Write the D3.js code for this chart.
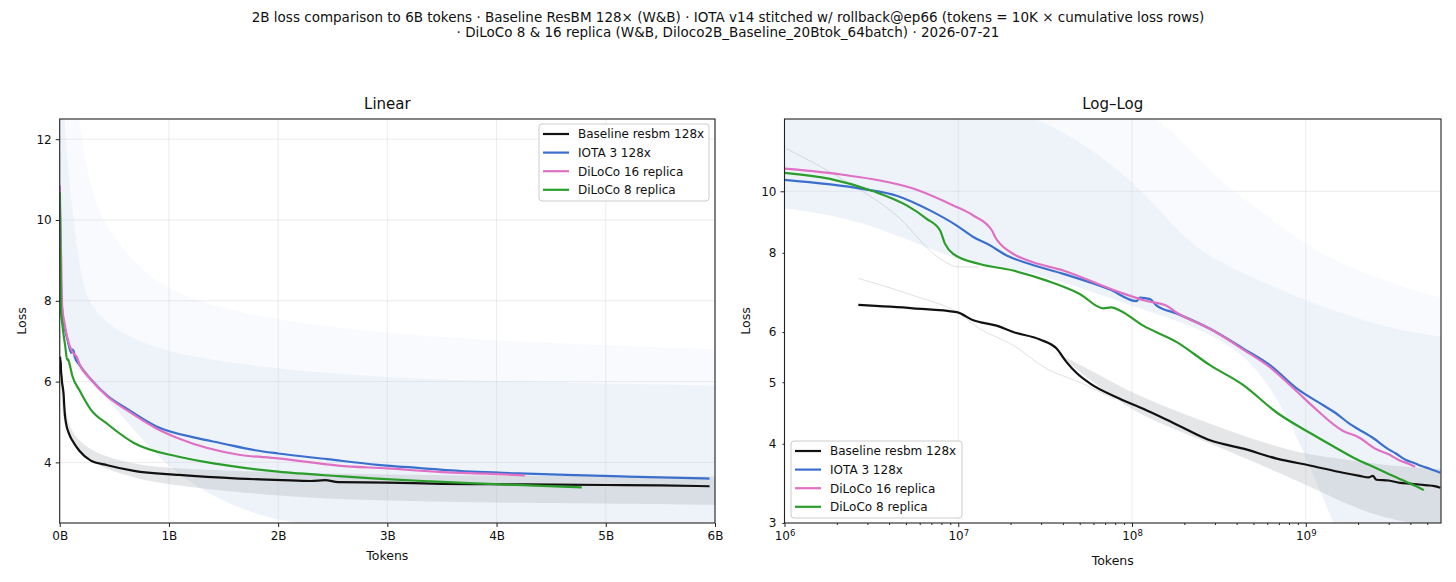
<!DOCTYPE html>
<html>
<head>
<meta charset="utf-8">
<script src="https://cdn.jsdelivr.net/npm/d3@7"></script>
<style>
  body { margin: 0; background: #fff; }
  svg text { font-family: "DejaVu Sans", sans-serif; fill: #111; }
</style>
</head>
<body>
<svg id="fig" width="1456" height="582"></svg>
<script>
// ---- data (tokens, loss) ----
const baseTok  = [2.66e6, 5.5e6, 9.8e6, 1.22e7, 1.66e7, 2.07e7, 2.95e7, 3.68e7, 4.2e7, 4.8e7, 5.72e7, 8.5e7, 1.16e8, 1.8e8, 2.81e8, 4.37e8, 6.8e8, 1.09e9, 1.64e9, 2.04e9, 2.3e9, 2.43e9, 2.55e9, 3.0e9, 3.5e9, 3.96e9, 4.5e9, 5.0e9, 5.5e9, 5.95e9];
const baseLoss = [6.62, 6.54, 6.45, 6.26, 6.14, 6.0, 5.84, 5.65, 5.38, 5.17, 4.98, 4.71, 4.54, 4.29, 4.05, 3.93, 3.79, 3.69, 3.6, 3.56, 3.54, 3.56, 3.51, 3.5, 3.47, 3.46, 3.45, 3.44, 3.43, 3.41];

const iotaTok  = [1e6, 2.84e6, 4.42e6, 6.87e6, 9.8e6, 1.22e7, 1.52e7, 1.9e7, 2.58e7, 4.02e7, 7.46e7, 1.06e8, 1.11e8, 1.27e8, 1.38e8, 1.8e8, 2.81e8, 4.37e8, 6.22e8, 8.86e8, 1.26e9, 1.47e9, 1.79e9, 2.0e9, 2.45e9, 2.91e9, 3.3e9, 3.77e9, 4.2e9, 4.64e9, 5.2e9, 5.95e9];
const iotaLoss = [10.42, 10.08, 9.84, 9.33, 8.83, 8.47, 8.22, 7.92, 7.68, 7.41, 7.0, 6.71, 6.8, 6.76, 6.61, 6.42, 6.07, 5.65, 5.32, 4.89, 4.6, 4.48, 4.3, 4.22, 4.08, 3.94, 3.86, 3.77, 3.73, 3.69, 3.65, 3.6];

const d16Tok  = [1e6, 2.28e6, 5.5e6, 9.35e6, 1.22e7, 1.56e7, 1.63e7, 1.98e7, 2.48e7, 4.02e7, 8.5e7, 1.2e8, 1.58e8, 1.8e8, 2.81e8, 4.37e8, 6.22e8, 8.86e8, 1.09e9, 1.64e9, 2.0e9, 2.55e9, 3.0e9, 3.5e9, 3.9e9, 4.26e9];
const d16Loss = [10.86, 10.6, 10.1, 9.5, 9.16, 8.68, 8.47, 8.03, 7.79, 7.5, 6.93, 6.72, 6.6, 6.44, 6.07, 5.63, 5.28, 4.84, 4.59, 4.19, 4.1, 3.92, 3.85, 3.76, 3.72, 3.68];

const d8Tok  = [1e6, 1.83e6, 3.25e6, 5.05e6, 6.58e6, 7.85e6, 8.38e6, 9.35e6, 1.33e7, 2.07e7, 3.23e7, 5.0e7, 6.83e7, 7.6e7, 8.5e7, 1.16e8, 1.8e8, 2.81e8, 4.37e8, 6.8e8, 1.09e9, 1.47e9, 2.0e9, 2.55e9, 2.9e9, 3.4e9, 3.8e9, 4.3e9, 4.78e9];
const d8Loss = [10.69, 10.46, 10.0, 9.5, 9.05, 8.68, 8.27, 7.97, 7.68, 7.5, 7.23, 6.89, 6.54, 6.56, 6.49, 6.14, 5.79, 5.32, 4.95, 4.48, 4.14, 3.95, 3.77, 3.66, 3.6, 3.53, 3.48, 3.43, 3.38];

// raw (unsmoothed) IOTA loss: dense envelope and spike envelope
const iotaRawTok     = [1e6, 3e6, 1e7, 2e7, 4e7, 1e8, 2e8, 3e8, 5e8, 8e8, 1.2e9, 2e9, 3e9, 4e9, 6e9];
const iotaRawLo      = [9.4, 9.0, 7.7, 7.6, 7.2, 6.6, 6.2, 5.9, 5.4, 4.4, 3.4, 2.4, 2.4, 2.4, 2.4];
const iotaRawHi      = [14, 14, 14, 13.5, 12.5, 10.5, 8.4, 7.8, 7.3, 6.9, 6.6, 6.3, 6.1, 6.0, 5.9];
const iotaRawSpikeHi = [14, 14, 14, 14, 14, 14, 12, 10.5, 9.5, 8.6, 8.0, 7.5, 7.2, 7.0, 6.8];
const iotaRawEarlyTok  = [1.03e6, 2.28e6, 4.42e6, 7.85e6, 1e7, 1.3e7];
const iotaRawEarlyLoss = [11.67, 10.35, 9.16, 7.83, 7.6, 7.6];

// raw baseline loss band
const baseRawTok = [3.5e7, 6e7, 1e8, 2e8, 4e8, 7e8, 1e9, 2e9, 3e9, 4e9, 6e9];
const baseRawLo  = [5.6, 5.0, 4.5, 4.15, 3.85, 3.6, 3.45, 3.15, 3.05, 3.0, 2.95];
const baseRawHi  = [5.6, 5.2, 4.8, 4.45, 4.15, 3.95, 3.85, 3.75, 3.7, 3.67, 3.65];
const baseRawEarlyTok  = [2.66e6, 5.5e6, 9.8e6, 1.33e7, 2.07e7, 3.23e7, 5e7, 8e7];
const baseRawEarlyLoss = [7.29, 6.85, 6.45, 6.07, 5.72, 5.25, 5.0, 4.7];

// ---- labels and ticks ----
const seriesNames  = ["Baseline resbm 128x", "IOTA 3 128x", "DiLoCo 16 replica", "DiLoCo 8 replica"];
const seriesColors = ["#111111", "#3a6fce", "#e070c4", "#2a9d2a"];
const linXTicks = [0, 1e9, 2e9, 3e9, 4e9, 5e9, 6e9];
const linYTicks = [4, 6, 8, 10, 12];
const logXTicks = [1e6, 1e7, 1e8, 1e9];
const logXMinorMult = [2, 3, 4, 5, 6, 7, 8, 9];
const logYMajor = [10];
const logYMinor = [3, 4, 5, 6, 8];
const titleLines = [
  "2B loss comparison to 6B tokens · Baseline ResBM 128× (W&B) · IOTA v14 stitched w/ rollback@ep66 (tokens = 10K × cumulative loss rows)",
  "· DiLoCo 8 & 16 replica (W&B, Diloco2B_Baseline_20Btok_64batch) · 2026-07-21"
];

const svg = d3.select("#fig");
const plotTop = 119, plotBottom = 523;

svg.append("g").selectAll("text").data(titleLines).join("text")
  .attr("x", 728).attr("y", (d, i) => 21.5 + i * 15.5)
  .attr("text-anchor", "middle").style("font-size", "13.5px").text(d => d);

const series = [
  { tok: baseTok, loss: baseLoss },
  { tok: iotaTok, loss: iotaLoss },
  { tok: d16Tok, loss: d16Loss },
  { tok: d8Tok, loss: d8Loss }
];
const pts = (tok, vals) => tok.map((t, i) => [t, vals[i]]);
const band = (tok, lo, hi) => tok.map((t, i) => [t, lo[i], hi[i]]);

function panel(id, x, y, opt) {
  const [x0, x1] = x.range();
  const g = svg.append("g");
  g.append("clipPath").attr("id", id).append("rect")
    .attr("x", x0).attr("y", plotTop).attr("width", x1 - x0).attr("height", plotBottom - plotTop);

  // grid
  const grid = g.append("g").attr("stroke", "#000").attr("stroke-opacity", 0.09).attr("stroke-width", 0.9);
  grid.selectAll(".gx").data(opt.gridX).join("line")
    .attr("x1", d => x(d)).attr("x2", d => x(d)).attr("y1", plotTop).attr("y2", plotBottom);
  grid.selectAll(".gy").data(opt.gridY).join("line")
    .attr("x1", x0).attr("x2", x1).attr("y1", d => y(d)).attr("y2", d => y(d));

  const body = g.append("g").attr("clip-path", `url(#${id})`);
  const area = d3.area().x(d => x(d[0])).y0(d => y(d[1])).y1(d => y(d[2])).curve(d3.curveBasis);

  body.append("path").datum(band(iotaRawTok, iotaRawLo, iotaRawSpikeHi))
    .attr("d", area).attr("fill", "#c9d9ee").attr("fill-opacity", 0.13);
  body.append("path").datum(band(iotaRawTok, iotaRawLo, iotaRawHi))
    .attr("d", area).attr("fill", "#c9d9ee").attr("fill-opacity", 0.2);
  body.append("path").datum(band(baseRawTok, baseRawLo, baseRawHi))
    .attr("d", area).attr("fill", "#a9adb2").attr("fill-opacity", 0.3);

  const line = d3.line().x(d => x(d[0])).y(d => y(d[1])).curve(d3.curveMonotoneX);
  body.append("path").datum(pts(iotaRawEarlyTok, iotaRawEarlyLoss)).attr("d", line)
    .attr("fill", "none").attr("stroke", "#999").attr("stroke-opacity", 0.3).attr("stroke-width", 1);
  body.append("path").datum(pts(baseRawEarlyTok, baseRawEarlyLoss)).attr("d", line)
    .attr("fill", "none").attr("stroke", "#999").attr("stroke-opacity", 0.3).attr("stroke-width", 1);

  body.selectAll(".curve").data(series).join("path")
    .attr("d", s => line(pts(s.tok, s.loss)))
    .attr("fill", "none").attr("stroke", (s, i) => seriesColors[i])
    .attr("stroke-width", 2.2).attr("stroke-linejoin", "round");

  // frame
  g.append("rect").attr("x", x0).attr("y", plotTop).attr("width", x1 - x0).attr("height", plotBottom - plotTop)
    .attr("fill", "none").attr("stroke", "#222").attr("stroke-width", 1.1);

  // axes
  const style = a => {
    a.select(".domain").remove();
    a.selectAll("line").attr("stroke", "#222");
    a.selectAll("text").attr("fill", "#111").style("font-size", "12px").attr("font-family", null);
  };
  opt.axes(g, style);

  // titles
  const cx = (x0 + x1) / 2;
  g.append("text").attr("x", cx).attr("y", 109).attr("text-anchor", "middle")
    .style("font-size", "15px").text(opt.title);
  g.append("text").attr("x", cx).attr("y", opt.xLabelY).attr("text-anchor", "middle")
    .style("font-size", "12.5px").text("Tokens");
  g.append("text").attr("transform", `translate(${opt.yLabelX},${(plotTop + plotBottom) / 2}) rotate(-90)`)
    .attr("text-anchor", "middle").style("font-size", "12.5px").text("Loss");

  // legend
  const L = opt.legend;
  const lg = g.append("g").attr("transform", `translate(${L.x},${L.y})`);
  lg.append("rect").attr("width", L.w).attr("height", 77).attr("rx", 3)
    .attr("fill", "#fff").attr("fill-opacity", 0.85).attr("stroke", "#ccc");
  const row = lg.selectAll(".row").data(seriesNames).join("g")
    .attr("transform", (d, i) => `translate(0,${10 + i * 18.6})`);
  row.append("line").attr("x1", 4).attr("x2", 30).attr("stroke", (d, i) => seriesColors[i]).attr("stroke-width", 2.2);
  row.append("text").attr("x", 39).attr("dy", "0.36em").style("font-size", "12px").text(d => d);
}

// linear panel
const xLin = d3.scaleLinear().domain([0, 6e9]).range([59.7, 715]);
const yLin = d3.scaleLinear().domain([2.5, 12.5]).range([plotBottom, plotTop]);
panel("clipLin", xLin, yLin, {
  title: "Linear", gridX: linXTicks, gridY: linYTicks, xLabelY: 560, yLabelX: 26,
  legend: { x: 539, y: 124, w: 170 },
  axes: (g, style) => {
    g.append("g").attr("transform", `translate(0,${plotBottom})`)
      .call(d3.axisBottom(xLin).tickValues(linXTicks).tickSize(4).tickPadding(4).tickFormat(d => d / 1e9 + "B"))
      .call(style);
    g.append("g").attr("transform", `translate(59.7,0)`)
      .call(d3.axisLeft(yLin).tickValues(linYTicks).tickSize(4).tickPadding(4))
      .call(style);
  }
});

// log-log panel
const xLog = d3.scaleLog().domain([1e6, 6e9]).range([784.5, 1441]);
const yLog = d3.scaleLog().domain([3, 13]).range([plotBottom, plotTop]);
const logXMinor = logXTicks.flatMap(b => logXMinorMult.map(m => m * b)).filter(v => v < 6e9);
panel("clipLog", xLog, yLog, {
  title: "Log–Log", gridX: logXTicks.slice(1), gridY: logYMajor, xLabelY: 565, yLabelX: 750,
  legend: { x: 791, y: 441, w: 171 },
  axes: (g, style) => {
    const bx = g.append("g").attr("transform", `translate(0,${plotBottom})`)
      .call(d3.axisBottom(xLog).tickValues(logXTicks).tickSize(4).tickPadding(4).tickFormat(() => ""))
      .call(style);
    bx.selectAll(".tick text").each(function (d) {
      const t = d3.select(this);
      t.append("tspan").text("10");
      t.append("tspan").attr("dy", "-0.45em").style("font-size", "8.5px").text(Math.round(Math.log10(d)));
    });
    g.append("g").attr("transform", `translate(0,${plotBottom})`)
      .call(d3.axisBottom(xLog).tickValues(logXMinor).tickSize(2).tickFormat(() => ""))
      .call(style);
    g.append("g").attr("transform", `translate(784.5,0)`)
      .call(d3.axisLeft(yLog).tickValues(logYMajor).tickSize(4).tickPadding(4).tickFormat(d3.format("d")))
      .call(style);
    g.append("g").attr("transform", `translate(784.5,0)`)
      .call(d3.axisLeft(yLog).tickValues(logYMinor).tickSize(2).tickPadding(6).tickFormat(d3.format("d")))
      .call(style);
  }
});
</script>
</body>
</html>
